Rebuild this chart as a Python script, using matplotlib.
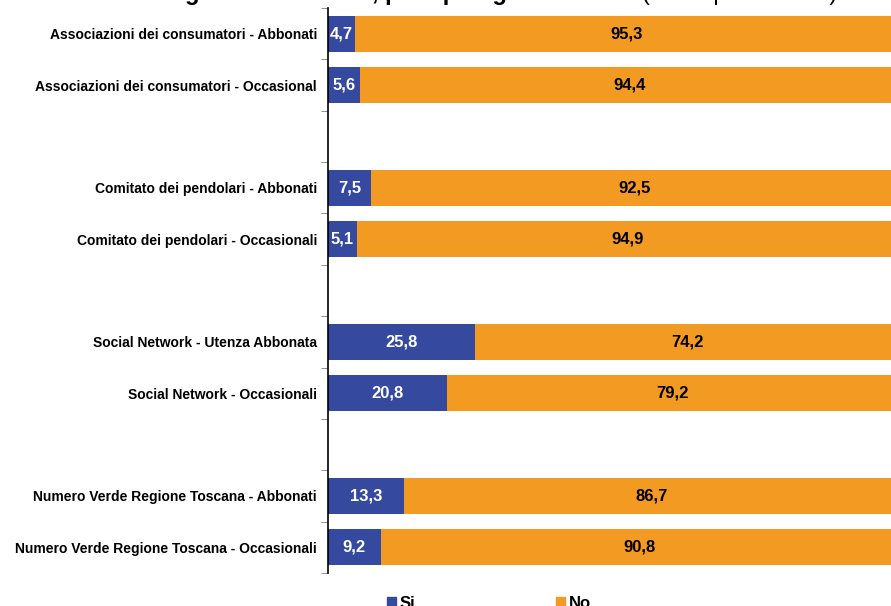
import numpy as np
import matplotlib.pyplot as plt
from matplotlib.patches import Patch

plt.rcParams['font.family'] = ['Liberation Sans', 'DejaVu Sans']

categorie = [
    "Associazioni dei consumatori - Abbonati",
    "Associazioni dei consumatori - Occasional",
    "Comitato dei pendolari - Abbonati",
    "Comitato dei pendolari - Occasionali",
    "Social Network - Utenza Abbonata",
    "Social Network - Occasionali",
    "Numero Verde Regione Toscana - Abbonati",
    "Numero Verde Regione Toscana - Occasionali",
]
si = [4.7, 5.6, 7.5, 5.1, 25.8, 20.8, 13.3, 9.2]
no = [95.3, 94.4, 92.5, 94.9, 74.2, 79.2, 86.7, 90.8]

# righe occupate (una riga vuota tra un gruppo e l'altro)
righe = [0, 1, 3, 4, 6, 7, 9, 10]
n_righe = 11

blu = '#354A9F'
arancio = '#F39A22'


def fmt(v):
    return f"{v:.1f}".replace('.', ',')


fig = plt.figure(figsize=(8.91, 6.06), dpi=100)
ax = fig.add_axes([328 / 891, 1 - 573 / 606, 571 / 891, 565 / 606])

ax.barh(righe, si, height=0.7, color=blu)
ax.barh(righe, no, left=si, height=0.7, color=arancio)

for r, s, n in zip(righe, si, no):
    ax.text(s / 2, r, fmt(s), ha='center', va='center', color='white',
            fontsize=12, fontweight='bold')
    ax.text(s + n / 2, r, fmt(n), ha='center', va='center', color='black',
            fontsize=12, fontweight='bold')

ax.set_xlim(0, 100)
ax.set_ylim(n_righe - 0.5, -0.5)
ax.set_xticks([])

ax.set_yticks(righe)
ax.set_yticklabels(categorie, fontsize=10, fontweight='bold')
ax.tick_params(axis='y', which='major', length=0, pad=8)
ax.set_yticks(np.arange(-0.5, n_righe, 1), minor=True)
ax.tick_params(axis='y', which='minor', length=5, color='#808080', direction='out')

for lato in ['top', 'right', 'bottom']:
    ax.spines[lato].set_visible(False)
ax.spines['left'].set_color('black')
ax.spines['left'].set_linewidth(1.2)

# titolo (tagliato in alto, restano visibili solo le parti sotto la linea di base)
fig.text(608 / 891, 1.0, "Ricorso a organismi di tutela, per tipologia utenza",
         ha='right', va='baseline', fontsize=17, fontweight='bold')
fig.text(642 / 891, 1.0, "(valori percentuali)",
         ha='left', va='baseline', fontsize=17)

maniglie = [Patch(color=blu), Patch(color=arancio)]
fig.legend(maniglie, ['Si', 'No'], loc='center', bbox_to_anchor=(489 / 891, 1 - 603 / 606),
           ncol=2, frameon=False, handlelength=0.55, handleheight=0.55,
           handletextpad=0.2, columnspacing=8.45,
           prop={'size': 12, 'weight': 'bold'})

fig.savefig('out.png', dpi=100)
